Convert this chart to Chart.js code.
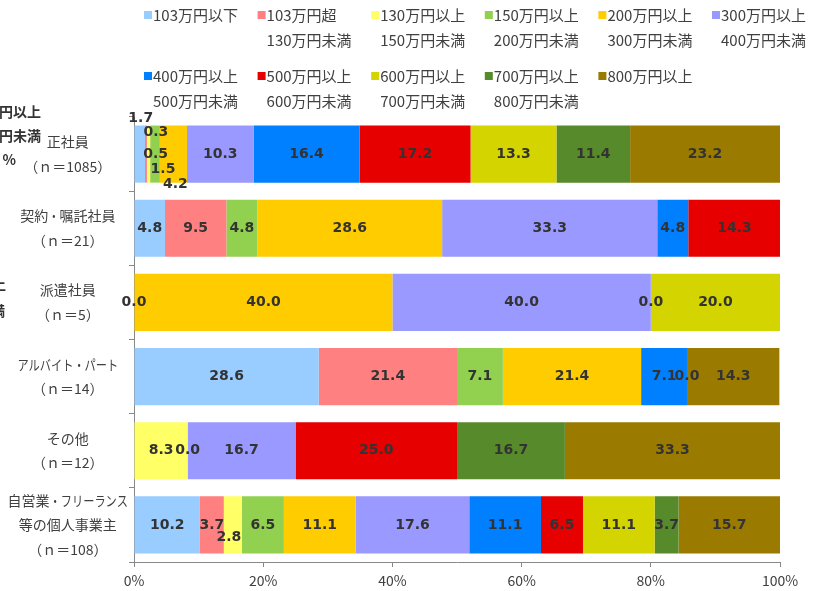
<!DOCTYPE html>
<html>
<head>
<meta charset="utf-8">
<script src="https://cdn.jsdelivr.net/npm/chart.js@4.4.1/dist/chart.umd.min.js"></script>
<style>
  body { margin: 0; background: #fff; }
  #wrap { width: 823px; height: 591px; }
</style>
</head>
<body>
<div id="wrap"><canvas id="myChart" width="823" height="591"></canvas></div>
<script>
// categories (rows, top to bottom)
const categories = [
  ['正社員', '（ｎ＝1085）'],
  ['契約・嘱託社員', '（ｎ＝21）'],
  ['派遣社員', '（ｎ＝5）'],
  ['アルバイト・パート', '（ｎ＝14）'],
  ['その他', '（ｎ＝12）'],
  ['自営業・フリーランス', '等の個人事業主', '（ｎ＝108）']
];

// income brackets (legend)
const seriesNames = [
  ['103万円以下'],
  ['103万円超', '130万円未満'],
  ['130万円以上', '150万円未満'],
  ['150万円以上', '200万円未満'],
  ['200万円以上', '300万円未満'],
  ['300万円以上', '400万円未満'],
  ['400万円以上', '500万円未満'],
  ['500万円以上', '600万円未満'],
  ['600万円以上', '700万円未満'],
  ['700万円以上', '800万円未満'],
  ['800万円以上']
];

// values per bracket, one entry per row (null = not shown)
const s103under = [1.7, 4.8, 0.0, 28.6, null, 10.2];
const s103to130 = [0.3, 9.5, null, 21.4, null, 3.7];
const s130to150 = [0.5, null, null, null, 8.3, 2.8];
const s150to200 = [1.5, 4.8, null, 7.1, 0.0, 6.5];
const s200to300 = [4.2, 28.6, 40.0, 21.4, null, 11.1];
const s300to400 = [10.3, 33.3, 40.0, null, 16.7, 17.6];
const s400to500 = [16.4, 4.8, 0.0, 7.1, null, 11.1];
const s500to600 = [17.2, 14.3, null, 0.0, 25.0, 6.5];
const s600to700 = [13.3, null, 20.0, null, null, 11.1];
const s700to800 = [11.4, null, null, null, 16.7, 3.7];
const s800over = [23.2, null, null, 14.3, 33.3, 15.7];

const xTicks = [0, 20, 40, 60, 80, 100];

const allSeries = [s103under, s103to130, s130to150, s150to200, s200to300, s300to400,
  s400to500, s500to600, s600to700, s700to800, s800over];

const colors = ['#99CCFF', '#FF8080', '#FFFF66', '#92D050', '#FFCC00', '#9999FF',
  '#007FFF', '#E60000', '#D4D400', '#578A2A', '#9A7B00'];

// label nudges for crowded small segments: "row,series" -> [dx, dy]
const labelNudge = {
  '0,0': [1, -36],
  '0,1': [10, -22],
  '0,2': [7, 0],
  '0,3': [8, 15],
  '0,4': [2, 30],
  '5,2': [-4, 12]
};

// katakana drawn a bit narrower, like the original UI font
function charScale(ch) {
  return /[\u30A0-\u30FF]/.test(ch) ? 0.8 : 1;
}
function textWidth(ctx, t) {
  let w = 0;
  for (const ch of t) w += ctx.measureText(ch).width * charScale(ch);
  return w;
}
function drawNarrow(ctx, t, cx, y) {
  let x = cx - textWidth(ctx, t) / 2;
  for (const ch of t) {
    const k = charScale(ch);
    ctx.save();
    ctx.translate(x, y);
    ctx.scale(k, 1);
    ctx.fillText(ch, 0, 0);
    ctx.restore();
    x += ctx.measureText(ch).width * k;
  }
}

const valueLabels = {
  id: 'valueLabels',
  afterDatasetsDraw(chart) {
    const ctx = chart.ctx;
    ctx.save();
    ctx.font = 'bold 14px "DejaVu Sans"';
    ctx.fillStyle = '#333';
    ctx.textAlign = 'center';
    ctx.textBaseline = 'middle';
    chart.data.datasets.forEach((ds, i) => {
      const meta = chart.getDatasetMeta(i);
      meta.data.forEach((el, j) => {
        const v = ds.data[j];
        if (v === null || v === undefined) return;
        const n = labelNudge[j + ',' + i] || [0, 0];
        const x = (el.x + el.base) / 2 + n[0];
        ctx.fillText(v.toFixed(1), x, el.y + n[1]);
      });
    });
    ctx.restore();
  }
};

const extraText = {
  id: 'extraText',
  afterDraw(chart) {
    const ctx = chart.ctx;
    ctx.save();

    // category labels
    const ys = chart.scales.y;
    ctx.font = '14px "Noto Sans CJK JP"';
    ctx.fillStyle = '#404040';
    ctx.textBaseline = 'middle';
    ctx.textAlign = 'left';
    let widest = 0;
    categories.forEach(lines => lines.forEach(t => { widest = Math.max(widest, textWidth(ctx, t)); }));
    const cx = ys.right - 6 - widest / 2;
    categories.forEach((lines, i) => {
      const yc = ys.getPixelForValue(i);
      const lh = 24.5;
      lines.forEach((t, k) => drawNarrow(ctx, t, cx, yc + (k - (lines.length - 1) / 2) * lh));
    });

    // legend
    ctx.font = '15px "Noto Sans CJK JP"';
    seriesNames.forEach((lines, i) => {
      const row = i < 6 ? 0 : 1;
      const col = i % 6;
      const x = 144 + col * 113.6;
      const y = row === 0 ? 15 : 76;
      ctx.fillStyle = colors[i];
      ctx.fillRect(x, y - 4, 8, 8);
      ctx.fillStyle = '#404040';
      lines.forEach((t, k) => ctx.fillText(t, x + 9, y + k * 25));
    });

    // clipped text from a neighbouring figure at the left edge
    ctx.font = 'bold 14px "Noto Sans CJK JP"';
    ctx.fillStyle = '#333';
    ctx.textAlign = 'right';
    ctx.fillText('300万円以上', 41, 112);
    ctx.fillText('400万円未満', 41, 136);
    ctx.fillText('%', 16, 160);
    ctx.fillText('以上', 6, 285);
    ctx.fillText('未満', 5, 311);
    ctx.restore();
  }
};

const datasets = allSeries.map((d, i) => ({
  label: seriesNames[i].join(''),
  data: d,
  backgroundColor: colors[i],
  borderWidth: 0,
  barPercentage: 0.77,
  categoryPercentage: 1
}));

const ctx = document.getElementById('myChart');
const myChart = new Chart(ctx, {
  type: 'bar',
  data: { labels: categories, datasets: datasets },
  options: {
    indexAxis: 'y',
    responsive: false,
    animation: false,
    layout: { padding: { top: 117, right: 43, left: 0, bottom: 2 } },
    plugins: {
      legend: { display: false },
      tooltip: { enabled: false }
    },
    scales: {
      x: {
        stacked: true,
        min: 0,
        max: 100,
        afterBuildTicks: (s) => { s.ticks = xTicks.map(v => ({ value: v })); },
        afterFit: (s) => { s.height = 27; },
        grid: { drawOnChartArea: false, drawTicks: true, tickLength: 5, color: '#888' },
        border: { display: true, color: '#888' },
        ticks: {
          padding: 5,
          color: '#404040',
          font: { family: 'Noto Sans CJK JP', size: 14 },
          callback: v => v + '%'
        }
      },
      y: {
        stacked: true,
        afterFit: (s) => { s.width = 134; },
        grid: { drawOnChartArea: false, drawTicks: true, tickLength: 5, color: '#888', offset: true },
        border: { display: true, color: '#888' },
        ticks: { display: false }
      }
    }
  },
  plugins: [valueLabels, extraText]
});
</script>
</body>
</html>
